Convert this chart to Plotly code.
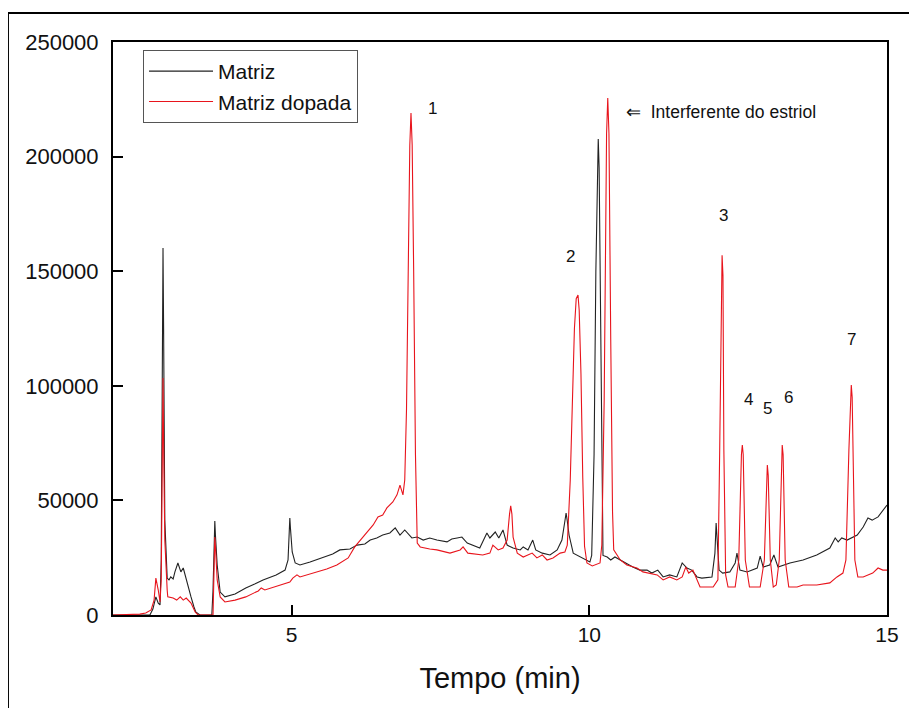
import plotly.graph_objects as go

# Matriz (black) - retention time (min) and intensity
matriz_t = [2.00, 2.62, 2.67, 2.72, 2.76, 2.79, 2.81, 2.83, 2.84, 2.85, 2.87, 2.91, 2.94, 2.97, 3.01, 3.04, 3.09, 3.13,
            3.14, 3.18, 3.23, 3.28, 3.31, 3.36, 3.39, 3.46, 3.66, 3.68, 3.70, 3.71, 3.72, 3.75, 3.80, 3.88, 4.05, 4.23,
            4.38, 4.52, 4.74, 4.89, 4.94, 4.96, 4.97, 4.98, 5.01, 5.06, 5.14, 5.31, 5.53, 5.69, 5.81, 5.98, 6.10, 6.23,
            6.32, 6.43, 6.53, 6.65, 6.74, 6.82, 6.90, 7.02, 7.11, 7.21, 7.32, 7.44, 7.61, 7.69, 7.78, 7.86,
            7.95, 8.03, 8.16, 8.28, 8.33, 8.42, 8.48, 8.55, 8.62, 8.72, 8.84, 8.89, 8.97, 9.05, 9.10, 9.21,
            9.34, 9.46, 9.54, 9.59, 9.61, 9.63, 9.66, 9.73, 9.89, 10.01, 10.04, 10.08, 10.11, 10.135, 10.15, 10.165,
            10.19, 10.21, 10.23,
            10.30, 10.36, 10.43, 10.52, 10.63, 10.73, 10.85, 10.97, 11.05, 11.15, 11.24, 11.35, 11.47, 11.56,
            11.64, 11.72, 11.81, 11.89, 12.06, 12.11, 12.13, 12.16, 12.18, 12.24, 12.36, 12.45, 12.48, 12.53,
            12.65, 12.82, 12.87, 12.92, 13.03, 13.10, 13.17, 13.37, 13.59, 13.82, 14.04, 14.13, 14.18, 14.24,
            14.33, 14.50, 14.60, 14.68, 14.75, 14.85, 15.00]
matriz_y = [0, 0, 2600, 7900, 5200, 4400, 24000, 130000, 160100, 125000, 41400, 16100, 15300, 16600, 15700, 18800, 22700, 19600,
            18800, 20500, 15300, 10900, 7900, 3500, 1300, 0, 0, 10900, 36000, 41000, 35000, 21800, 10000, 7900, 9200, 11800,
            13500, 15300, 17500, 19600, 24000, 38000, 42300, 38000, 27500, 22700, 21800, 23100, 25300, 26600, 28400, 28800, 30500, 31000,
            32700, 33600, 34900, 35800, 38000, 34900, 37100, 33600, 34000, 32700, 33600, 32700, 31900, 33200, 33600, 34000,
            31400, 30500, 29200, 35800, 33600, 36200, 33600, 37100, 30500, 29200, 28400, 29700, 28400, 32700, 28400, 27000,
            26200, 28400, 32700, 41000, 44500, 41000, 34900, 27000, 24900, 23100, 26000, 70000, 150000, 198000, 207700, 195000,
            120000, 50000, 26000,
            25300, 24000, 25300, 24000, 22700, 20900, 19600, 19600, 18300, 19600, 16600, 17500, 16600, 22700,
            20500, 19600, 16600, 16100, 16600, 27000, 40100, 24000, 19600, 18300, 18800, 22700, 27000, 19600,
            18800, 20500, 25700, 20900, 21800, 26200, 20900, 22700, 24000, 26200, 29200, 33600, 31900, 33600,
            32700, 34900, 38400, 42300, 41400, 42800, 48000]

# Matriz dopada (red)
dopada_t = [2.00, 2.45, 2.55, 2.64, 2.69, 2.72, 2.76, 2.79, 2.81, 2.83, 2.84, 2.85, 2.87, 2.91, 2.92, 3.01, 3.07, 3.13,
            3.18, 3.23, 3.31, 3.38, 3.43, 3.68, 3.70, 3.71, 3.72, 3.75, 3.80, 3.88, 4.05, 4.23, 4.44, 4.49, 4.55,
            4.80, 4.97, 5.02, 5.09, 5.14, 5.31, 5.43, 5.59, 5.76, 5.95, 6.06, 6.20, 6.37, 6.45, 6.53, 6.60,
            6.70, 6.77, 6.82, 6.87, 6.90, 6.93, 6.96, 6.985, 7.005, 7.025, 7.05, 7.08, 7.11, 7.16, 7.32, 7.44, 7.66, 7.83,
            7.88, 7.96, 8.21, 8.33, 8.38, 8.47, 8.55, 8.62, 8.66, 8.68, 8.70, 8.72, 8.79, 8.89, 9.04, 9.12, 9.21, 9.29,
            9.39, 9.51, 9.59, 9.63, 9.68, 9.72, 9.75, 9.78, 9.81, 9.83, 9.86, 9.89, 9.92, 9.96, 10.05, 10.18, 10.21, 10.25,
            10.29, 10.31, 10.33, 10.36, 10.39, 10.41, 10.47, 10.52, 10.63, 10.73, 10.80, 10.90, 11.14, 11.24, 11.35,
            11.47, 11.56, 11.62, 11.67, 11.74, 11.81, 11.86, 12.08, 12.16, 12.19, 12.215, 12.23, 12.245, 12.26, 12.29, 12.33,
            12.45, 12.51, 12.555, 12.57, 12.585, 12.62, 12.69, 12.87, 12.94, 12.975, 12.99, 13.005, 13.04, 13.09, 13.14, 13.19,
            13.225, 13.24, 13.255, 13.29,
            13.35, 13.49, 13.59, 13.82, 14.04, 14.16, 14.26, 14.31, 14.36, 14.385, 14.40, 14.415, 14.43, 14.46, 14.51, 14.60,
            14.76, 14.85, 14.93, 15.00]
dopada_y = [0, 400, 900, 2200, 6500, 16100, 10900, 5700, 15300, 80000, 103400, 75000, 32700, 10900, 7900, 7400, 6500, 7900,
            6500, 7400, 5200, 1300, 0, 0, 24000, 34000, 30000, 15300, 7900, 5700, 6500, 7900, 10500, 11800, 10900,
            13100, 14400, 16100, 17500, 16600, 17900, 18800, 20100, 21800, 24900, 29700, 34000, 39300, 42800, 43600, 46700,
            49300, 52400, 56700, 52400, 58900, 90000, 160000, 205000, 219000, 205000, 150000, 70000, 31400, 29700, 28800, 28400, 27000, 28400,
            29700, 27000, 26200, 27000, 30500, 28400, 29200, 32700, 44000, 47600, 44000, 34000, 27000, 25300, 27000, 24900, 26200, 24000,
            24900, 27000, 27500, 30500, 58900, 95000, 125000, 138000, 139600, 133000, 105000, 60000, 30000, 22700, 21400, 22700, 30500, 93800,
            210000, 225600, 210000, 120000, 45000, 28400, 26200, 24000, 21800, 20900, 20500, 18800, 17500, 15300, 16600,
            15300, 16600, 20900, 18300, 19600, 15300, 12200, 12200, 15300, 72000, 148000, 157000, 148000, 72000, 17500, 12200,
            12200, 24000, 70000, 74200, 70000, 24000, 12200, 12200, 24000, 61000, 65400, 61000, 24000, 12200, 13100, 24000,
            70000, 74200, 70000, 24000,
            12200, 12200, 13100, 13100, 14000, 16600, 18300, 24000, 72000, 95000, 100300, 95000, 72000, 24000, 16600, 16600,
            18300, 20500, 19600, 19600]

peak_labels = ["1", "2", "3", "4", "5", "6", "7"]
peak_label_t = [7.36, 9.69, 12.26, 12.68, 13.00, 13.34, 14.40]
peak_label_y = [221200, 156200, 174100, 94200, 90300, 95100, 120000]

interf_text = "\u21d0  Interferente do estriol"
interf_t = 10.58
interf_y = 219500

x_ticks = [5, 10, 15]
y_ticks = [0, 50000, 100000, 150000, 200000, 250000]

FONT = "Arial, Liberation Sans, Helvetica, sans-serif"

fig = go.Figure()
fig.add_trace(go.Scatter(x=matriz_t, y=matriz_y, mode="lines", name="Matriz",
                         line=dict(color="#222222", width=1.1)))
fig.add_trace(go.Scatter(x=dopada_t, y=dopada_y, mode="lines", name="Matriz dopada",
                         line=dict(color="#e8141c", width=1.1)))

for txt, t, y in zip(peak_labels, peak_label_t, peak_label_y):
    fig.add_annotation(x=t, y=y, text=txt, showarrow=False,
                       font=dict(family=FONT, size=17, color="#111"))
fig.add_annotation(x=interf_t, y=interf_y, text=interf_text, showarrow=False, xanchor="left",
                   font=dict(family=FONT, size=17.5, color="#111"))

# outer frame (top and left)
fig.add_shape(type="line", xref="paper", yref="paper", x0=-0.1357, x1=1.06, y0=1.0506, y1=1.0506,
              line=dict(color="black", width=2))
fig.add_shape(type="line", xref="paper", yref="paper", x0=-0.1357, x1=-0.1357, y0=-0.2, y1=1.0506,
              line=dict(color="black", width=2))

fig.update_layout(
    width=917, height=708,
    margin=dict(l=105, r=38, t=34, b=101),
    paper_bgcolor="white", plot_bgcolor="white",
    font=dict(family=FONT, color="#111"),
    showlegend=True,
    legend=dict(x=0.0388, y=0.986, xanchor="left", yanchor="top",
                bgcolor="white", bordercolor="#555", borderwidth=1,
                font=dict(family=FONT, size=21, color="#111"),
                tracegroupgap=0, itemwidth=64),
    xaxis=dict(range=[2, 15], tickvals=x_ticks, ticktext=[str(v) for v in x_ticks],
               ticks="inside", ticklen=10, tickwidth=2, tickcolor="black",
               showline=True, linecolor="black", linewidth=2, mirror=True,
               showgrid=False, zeroline=False,
               tickfont=dict(family=FONT, size=21, color="#111"),
               title=dict(text="Tempo (min)", font=dict(family=FONT, size=29, color="#111"), standoff=22)),
    yaxis=dict(range=[0, 250000], tickvals=y_ticks, ticktext=[str(v) for v in y_ticks],
               ticks="inside", ticklen=10, tickwidth=2, tickcolor="black",
               showline=True, linecolor="black", linewidth=2, mirror=True,
               showgrid=False, zeroline=False, ticklabelstandoff=8,
               tickfont=dict(family=FONT, size=22, color="#111")),
)

fig.write_html("out.html")
